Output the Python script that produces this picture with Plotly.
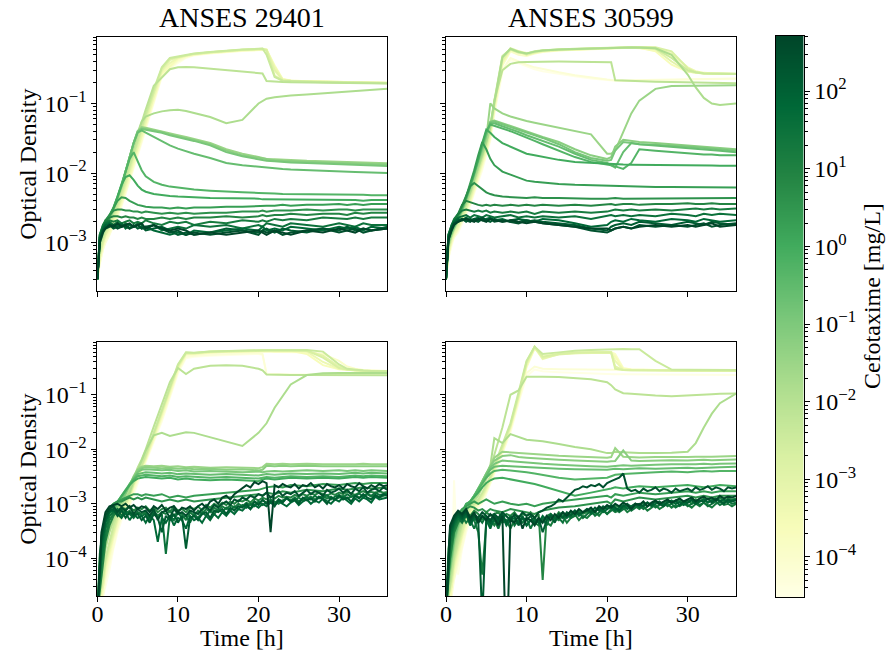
import numpy as np
import plotly.graph_objects as go

# ---------------- data ----------------
TIME_H = [0, 0.3, 0.7, 1, 1.5, 2, 2.5, 3, 3.5,
          4, 4.5, 5, 5.5, 6, 7, 8, 9, 10, 11, 12,
          14, 16, 18, 20, 20.5, 21, 22, 23, 24,
          26, 28, 30, 31, 32, 33, 34, 36]

# finer time sampling used for the noisy high-concentration wells (bottom row)
TIME_FINE_H = [0, 0.5, 1, 1.5, 2, 2.5, 3, 3.5, 4, 4.5, 5, 5.5,
               6, 6.5, 7, 7.5, 8, 8.5, 9, 9.5, 10, 10.5, 11, 11.5,
               12, 12.5, 13, 13.5, 14, 14.5, 15, 15.5, 16, 16.5, 17, 17.5,
               18, 18.5, 19, 19.5, 20, 20.5, 21, 21.5, 22, 22.5, 23, 23.5,
               24, 24.5, 25, 25.5, 26, 26.5, 27, 27.5, 28, 28.5, 29, 29.5,
               30, 30.5, 31, 31.5, 32, 32.5, 33, 33.5, 34, 34.5, 35, 35.5,
               36]

# Cefotaxime concentrations [mg/L], index k = 0 (highest) ... 24 (lowest)
CONC_MG_L = [512, 256, 128, 64, 32, 16, 8, 4, 2, 1, 0.5, 0.25, 0.125, 0.0625,
             0.03125, 0.015625, 0.0078125, 0.00390625, 0.001953125,
             0.0009765625, 0.00048828125, 0.000244140625, 0.0001220703125,
             6.103515625e-05, 3.0517578125e-05]

STRAINS = ["ANSES 29401", "ANSES 30599"]

# optical density in units of 1e-3 (mOD); one list per concentration, k = 0 first
OD_29401_TOP = [
    [0.3,1.0,1.4,1.6,1.8,1.7,1.9,1.7,1.8, 1.9,1.7,1.8,1.9,1.6,1.8,1.6,1.5,1.6,1.5,1.3, 1.4,1.3,1.4,1.5,1.4,1.3,1.5,1.4,1.3, 1.5,1.4,1.6,1.5,1.4,1.6,1.5,1.6],
    [0.3,1.1,1.5,1.6,1.7,1.8,1.6,1.7,1.8, 1.6,1.7,1.8,1.6,1.7,1.8,1.6,1.4,1.5,1.3,1.4, 1.3,1.4,1.5,1.3,1.5,1.4,1.5,1.3,1.4, 1.5,1.6,1.4,1.5,1.6,1.4,1.5,1.6],
    [0.3,1.1,1.5,1.7,1.8,1.6,1.7,1.8,1.7, 1.6,1.8,1.6,1.7,1.5,1.6,1.7,1.5,1.3,1.4,1.3, 1.4,1.6,1.5,1.4,1.5,1.6,1.4,1.6,1.5, 1.4,1.6,1.5,1.7,1.5,1.6,1.5,1.7],
    [0.3,1.2,1.6,1.8,1.9,1.7,1.8,1.9,1.6, 1.8,1.7,1.8,1.6,1.7,1.5,1.4,1.3,1.4,1.3,1.5, 1.4,1.5,1.6,1.5,1.7,1.5,1.6,1.5,1.7, 1.6,1.5,1.7,1.6,1.7,1.5,1.7,1.6],
    [0.3,1.2,1.7,1.9,2.0,1.8,2.0,1.7,1.9, 1.8,1.7,1.9,1.8,1.6,1.8,1.5,1.6,1.7,1.6,1.8, 1.7,1.8,1.6,1.8,1.7,1.9,1.8,1.7,1.9, 1.8,1.7,1.9,1.8,1.7,1.9,1.8,1.8],
    [0.3,1.3,1.8,2.0,2.1,2.0,2.1,1.9,2.0, 2.1,1.9,2.0,1.9,2.1,1.9,1.8,2.0,1.9,2.0,1.8, 2.0,1.9,2.1,2.0,2.1,2.0,2.2,2.1,2.2, 2.1,2.3,2.2,2.2,2.3,2.2,2.3,2.3],
    [0.3,1.3,1.8,2.1,2.3,2.4,2.4,2.3,2.4, 2.3,2.3,2.2,2.3,2.2,2.2,2.3,2.2,2.3,2.2,2.3, 2.3,2.4,2.3,2.4,2.5,2.4,2.5,2.5,2.6, 2.5,2.6,2.6,2.5,2.7,2.6,2.7,2.7],
    [0.3,1.3,1.7,2.1,2.5,2.9,3.0,3.0,2.9, 2.9,2.8,2.8,2.7,2.8,2.7,2.6,2.7,2.6,2.7,2.6, 2.7,2.7,2.8,2.8,2.9,2.8,2.9,2.9,2.9, 3.0,2.9,3.0,3.0,2.9,3.0,3.0,3.0],
    [0.3,1.2,1.6,2.0,2.5,3.2,4.0,4.5,4.4, 4.0,3.7,3.5,3.4,3.3,3.2,3.2,3.1,3.2,3.1,3.2, 3.2,3.3,3.3,3.4,3.4,3.4,3.4,3.5,3.4, 3.5,3.5,3.6,3.5,3.6,3.5,3.6,3.6],
    [0.3,1.2,1.6,1.9,2.4,3.2,4.6,6.8,8.8, 9.3,8.0,6.6,5.8,5.4,5.0,4.8,4.7,4.6,4.6,4.5, 4.4,4.4,4.3,4.3,4.2,4.2,4.2,4.1,4.2, 4.1,4.1,4.2,4.1,4.1,4.0,4.1,4.1],
    [0.3,1.1,1.5,1.9,2.4,3.2,4.6,7.0,11, 16,20,15,11,9.0,7.5,6.8,6.4,6.2,6.0,5.8, 5.6,5.4,5.3,5.2,5.2,5.1,5.1,5.0,5.0, 5.0,4.9,4.9,4.9,4.9,4.9,4.8,4.8],
    [0.3,1.1,1.5,1.8,2.3,3.1,4.4,6.7,10.7, 17,27,38,41,38,33,28,25,22.5,20.5,19, 16.5,14,13,12.3,12.2,12,11.8,11.5,11.3, 11,10.8,10.6,10.5,10.4,10.3,10.2,10],
    [0.3,1.0,1.5,1.8,2.3,3.1,4.4,6.6,10.6, 17,27,39,43,42,40,38,35,33,31,29, 25,20,17.5,16,15.5,15,14.8,14.5,14.2, 14,13.7,13.5,13.4,13.2,13,12.9,12.7],
    [0.3,1.0,1.4,1.7,2.2,3.0,4.3,6.5,10.5, 17,27,40,44,43,41,39,36,34,32,30, 26,21,18,16.5,16,15.6,15.3,15,14.8, 14.5,14.2,14,13.9,13.8,13.6,13.5,13.3],
    [0.3,1.0,1.4,1.7,2.2,3.0,4.3,6.5,10.5, 17,27,40,46,45,42,40,37,35,33,31, 27,22,19,17,16.5,16,15.8,15.5,15.3, 15,14.8,14.5,14.4,14.3,14.2,14,13.8],
    [0.3,1.0,1.4,1.7,2.2,2.9,4.2,6.3,10, 16,25,38,55,65,72,77,80,81,78,73, 64,52,58,100,108,117,123,127,130, 135,140,146,149,152,155,158,163],
    [0.3,0.9,1.3,1.6,2.1,2.8,4.0,6.0,9.5, 15,23,36,55,82,180,240,310,330,335,330, 315,300,290,275,270,210,205,203,201, 200,199,198,197,196,195,194,193],
    [0.3,0.8,1.2,1.5,1.9,2.6,3.6,5.5,8.5, 13,20,31,47,70,160,330,450,470,500,520, 550,575,595,610,615,500,240,212,208, 205,202,200,199,198,197,196,195],
    [0.3,0.7,1.1,1.4,1.8,2.4,3.3,5.0,7.8, 12,18,28,43,65,150,320,440,465,495,515, 545,570,590,605,610,580,250,214,210, 206,203,201,200,199,198,197,196],
    [0.3,0.7,1.0,1.3,1.7,2.3,3.1,4.6,7.2, 11,17,26,40,60,140,300,420,460,490,515, 545,570,590,600,605,590,300,218,210, 207,204,202,201,200,199,198,197],
    [0.3,0.6,1.0,1.3,1.6,2.1,2.9,4.3,6.6, 10,15,24,37,56,130,290,380,450,485,510, 540,565,585,600,600,595,330,220,212, 208,205,203,202,201,200,199,198],
    [0.3,0.6,0.9,1.2,1.5,2.0,2.7,4.0,6.0, 9,14,22,34,52,120,270,350,440,480,505, 535,560,580,595,600,590,350,225,213, 209,206,204,203,202,201,200,198],
    [0.3,0.6,0.9,1.1,1.4,1.9,2.5,3.7,5.5, 8.5,13,20,31,48,115,260,330,420,470,500, 530,555,575,590,595,585,320,222,212, 208,205,203,202,201,200,199,197],
    [0.3,0.5,0.8,1.0,1.3,1.8,2.4,3.5,5.2, 8,12,19,29,45,110,250,320,400,460,495, 525,550,570,585,590,580,300,220,211, 207,204,202,201,200,199,198,196],
    [0.3,0.5,0.8,1.0,1.3,1.7,2.3,3.3,5.0, 7.5,11,18,27,42,100,240,310,380,450,490, 520,545,565,580,585,575,280,218,210, 206,203,201,200,199,198,197,195],
]

OD_30599_TOP = [
    [0.3,1.1,1.5,1.8,2.0,2.1,2.2,2.1,2.0, 2.2,2.1,2.0,2.2,2.1,2.0,2.1,2.0,1.9,2.0,1.9, 1.8,1.7,1.6,1.6,1.5,1.6,1.7,1.6,1.7, 1.8,1.7,1.8,1.7,1.8,1.9,1.7,1.8],
    [0.3,1.1,1.6,1.9,2.0,2.2,2.1,2.0,2.2, 2.1,2.3,2.1,2.2,2.0,2.1,2.0,1.9,2.1,2.0,1.9, 1.8,1.7,1.5,1.4,1.5,1.6,1.7,1.6,1.8, 1.7,1.8,1.7,1.8,1.9,1.7,1.8,1.9],
    [0.3,1.2,1.6,1.9,2.1,2.2,2.0,2.2,2.1, 2.0,2.2,2.1,2.0,2.2,2.0,2.1,2.2,2.0,2.1,2.0, 1.9,1.8,1.6,1.5,1.7,1.8,1.9,1.8,2.0, 1.9,1.8,2.0,1.9,1.8,2.0,1.9,1.8],
    [0.3,1.2,1.7,2.0,2.2,2.1,2.3,2.1,2.2, 2.3,2.1,2.2,2.3,2.1,2.2,2.0,2.2,2.1,2.0,2.2, 2.1,1.9,1.7,1.8,2.0,2.1,2.0,2.2,2.1, 2.0,2.2,2.1,2.0,2.2,2.1,2.0,2.1],
    [0.3,1.3,1.8,2.1,2.3,2.4,2.5,2.3,2.5, 2.4,2.3,2.5,2.4,2.3,2.4,2.5,2.3,2.4,2.3,2.4, 2.3,2.4,2.2,2.4,2.5,2.4,2.5,2.4,2.5, 2.4,2.6,2.5,2.4,2.6,2.5,2.6,2.5],
    [0.3,1.3,1.8,2.2,2.6,2.9,3.0,2.9,2.8, 2.9,2.8,2.9,2.7,2.8,2.7,2.8,2.7,2.8,2.6,2.8, 2.7,2.8,2.7,2.8,2.9,3.0,2.9,3.0,2.9, 3.0,2.9,3.0,3.1,3.0,3.1,3.0,3.1],
    [0.3,1.3,1.7,2.1,2.6,3.5,4.0,3.8,3.6, 3.5,3.4,3.5,3.4,3.5,3.4,3.5,3.4,3.5,3.4,3.5, 3.4,3.5,3.4,3.5,3.6,3.5,3.6,3.6,3.5, 3.6,3.6,3.7,3.6,3.6,3.7,3.6,3.6],
    [0.3,1.2,1.6,2.0,2.5,3.4,4.8,6.5,7.2, 6.5,5.8,5.3,5.0,4.8,4.6,4.5,4.5,4.4,4.5,4.4, 4.4,4.3,4.3,4.3,4.4,4.4,4.3,4.3,4.4, 4.4,4.3,4.4,4.4,4.3,4.4,4.4,4.4],
    [0.3,1.2,1.6,1.9,2.4,3.3,4.6,7.0,11, 18,28,22,16,13,10.5,9.5,8.5,7.8,7.5,7.3, 7.0,6.8,6.7,6.6,6.5,6.5,6.4,6.4,6.4, 6.3,6.3,6.3,6.3,6.2,6.3,6.2,6.2],
    [0.3,1.1,1.5,1.9,2.4,3.2,4.5,6.6,10, 16,27,42,38,33,27,24,21,19,18,17, 15.5,14.5,14,13.5,13.5,13.4,13.3,13.2,13.2, 13.1,13,13,13,13,12.9,12.8,12.8],
    [0.3,1.1,1.5,1.8,2.3,3.1,4.4,6.5,10, 15.5,25,40,50,48,44,40,36,32,29,26, 21,17,14.5,13.5,13,12.5,11.5,14,22, 21,20,19.5,19,18.5,18.5,18,18],
    [0.3,1.1,1.5,1.8,2.3,3.1,4.3,6.4,9.8, 15,24,38,52,52,47,43,39,35,32,29, 24,19,15.5,14,13,12,20,27,26, 25,24,23,22.5,22,21.5,21,20],
    [0.3,1.0,1.4,1.7,2.2,3.0,4.2,6.3,9.6, 14.5,23,36,54,55,50,46,42,38,35,32, 26,20,16.5,15,15.5,21,28,27,26, 25.5,25,24,23.5,23,22.5,22,21],
    [0.3,1.0,1.4,1.7,2.2,3.0,4.2,6.2,9.5, 14,22,35,55,57,52,47,43,39,36,33, 28,22,18,16,17,24,30,29,28, 27,26,25,24.5,24,23.5,23,22],
    [0.3,1.0,1.4,1.7,2.2,2.9,4.0,5.8,8.8, 13,20,32,100,85,72,65,60,56,53,50, 45,40,36,19,19,21,38,72,110, 162,178,180,180,181,181,182,182],
    [0.3,0.9,1.3,1.6,2.1,2.8,3.7,5.3,8, 11.5,17.5,28,46,105,460,610,550,520,555,575, 595,605,615,625,628,630,632,635,630, 620,500,260,170,120,100,95,100],
    [0.3,0.9,1.3,1.6,2.1,2.8,3.8,5.5,8.2, 12,18,29,48,110,300,370,390,395,398,400, 400,398,396,395,390,215,212,210,208, 205,203,200,199,198,197,196,195],
    [0.3,0.9,1.3,1.6,2.0,2.6,3.5,5.0,7.5, 11,17,27,45,110,480,600,540,520,560,580, 600,610,620,630,632,635,640,645,648, 620,450,300,280,270,268,266,265],
    [0.3,0.8,1.2,1.5,1.9,2.5,3.3,4.7,7.0, 10.5,16,25,42,100,450,620,560,510,550,575, 595,605,615,625,628,630,635,640,645, 640,560,320,280,272,270,268,266],
    [0.3,0.8,1.2,1.5,1.8,2.4,3.1,4.4,6.6, 10,15,24,40,95,420,600,550,500,540,570, 590,600,610,620,622,625,630,635,640, 600,400,290,275,270,268,266,265],
    [0.3,0.7,1.1,1.4,1.7,2.3,3.0,4.2,6.3, 9.5,14,22,37,90,400,590,560,530,545,565, 585,600,610,620,625,628,632,636,640, 630,520,330,290,275,270,268,266],
    [0.3,0.7,1.1,1.3,1.6,2.2,2.9,4.0,6.0, 9,13,21,35,85,380,580,540,500,530,560, 580,595,605,615,620,625,630,632,630, 560,360,285,275,270,268,266,264],
    [0.3,0.7,1.0,1.3,1.6,2.1,2.8,3.8,5.7, 8.5,12.5,20,33,80,350,560,500,480,520,550, 575,590,600,610,615,620,625,630,620, 580,480,300,280,272,270,268,265],
    [0.3,0.6,1.0,1.2,1.5,2.0,2.6,3.6,5.4, 8,12,19,31,75,300,450,400,360,330,310, 280,255,235,220,218,216,215,215,216, 218,220,222,223,224,225,226,228],
    [0.3,0.6,0.9,1.2,1.4,1.9,2.5,3.4,5.1, 7.5,11,18,29,70,280,420,380,340,310,290, 265,245,228,215,213,212,211,212,213, 215,218,220,221,222,223,224,226],
]

# bottom row: k = 0..6 on TIME_FINE_H (noisy), k = 7..24 on TIME_H
OD_29401_BOTTOM_FINE = [
    [0.01,0.3,0.7,0.9,0.95,1.0,0.9,1.0,0.85,0.95,0.8,0.9, 0.85,0.7,0.9,0.8,0.95,0.75,0.85,0.9,0.7,0.85,0.8,0.9,
     0.75,0.9,1.0,0.85,1.1,1.2,1.0,1.3,1.4,1.2,1.5,1.7, 1.9,2.2,2.0,2.5,2.3,2.6,2.4,0.3,2.2,2.0,2.3,2.1,
     2.0,2.3,1.9,2.2,2.1,2.4,2.0,2.2,1.9,2.3,2.1,2.0, 2.2,1.9,2.3,2.1,2.0,2.4,2.1,1.9,2.2,2.0,2.3,2.1, 2.2],
    [0.01,0.25,0.6,0.8,0.9,0.7,0.85,0.75,0.9,0.65,0.8,0.7, 0.75,0.6,0.8,0.5,0.7,0.75,0.55,0.8,0.65,0.7,0.6,0.75,
     0.7,0.65,0.8,0.9,0.75,0.95,0.85,1.0,1.1,0.95,1.2,1.1, 1.3,1.2,1.4,1.3,1.5,1.4,1.6,1.3,1.5,1.7,1.4,1.6,
     1.5,1.7,1.4,1.6,1.8,1.5,1.7,1.6,1.4,1.8,1.6,1.7, 1.9,1.6,1.8,1.5,1.9,1.7,2.0,1.6,1.8,1.9,1.7,2.0, 1.8],
    [0.01,0.2,0.5,0.75,0.8,0.6,0.75,0.55,0.7,0.6,0.65,0.5, 0.6,0.45,0.65,0.55,0.3,0.6,0.5,0.65,0.45,0.6,0.15,0.55,
     0.6,0.5,0.65,0.7,0.55,0.75,0.7,0.8,0.65,0.85,0.75,0.9, 0.85,1.0,0.8,1.1,0.95,1.2,1.0,1.1,0.9,1.2,1.05,1.3,
     1.1,1.2,1.0,1.3,1.15,1.25,1.1,1.35,1.2,1.0,1.3,1.2, 1.4,1.2,1.3,1.1,1.4,1.25,1.5,1.3,1.2,1.45,1.3,1.5, 1.4],
    [0.01,0.15,0.45,0.7,0.75,0.65,0.55,0.7,0.5,0.65,0.55,0.6, 0.45,0.6,0.5,0.2,0.55,0.45,0.6,0.4,0.55,0.5,0.35,0.6,
     0.5,0.55,0.45,0.6,0.5,0.65,0.55,0.7,0.6,0.75,0.65,0.8, 0.75,0.9,0.8,0.95,0.85,1.0,0.9,1.05,0.95,1.1,1.0,0.9,
     1.05,1.15,0.95,1.1,1.2,1.0,1.15,1.05,1.25,1.1,1.0,1.2, 1.1,1.3,1.15,1.0,1.25,1.1,1.3,1.2,1.05,1.35,1.2,1.25, 1.3],
    [0.01,0.1,0.35,0.6,0.7,0.8,0.6,0.75,0.65,0.55,0.7,0.6, 0.65,0.5,0.7,0.55,0.65,0.12,0.6,0.5,0.7,0.55,0.6,0.45,
     0.65,0.55,0.7,0.6,0.75,0.65,0.8,0.7,0.85,0.75,0.9,0.8, 0.95,0.85,1.0,0.9,1.1,0.95,1.05,1.15,1.0,1.2,1.1,1.25,
     1.15,1.3,1.1,1.25,1.35,1.2,1.4,1.25,1.3,1.45,1.2,1.35, 1.45,1.3,1.5,1.35,1.4,1.55,1.35,1.5,1.4,1.6,1.45,1.5, 1.55],
    [0.01,0.08,0.25,0.5,0.65,0.7,0.8,0.65,0.75,0.6,0.7,0.65, 0.7,0.55,0.75,0.6,0.7,0.65,0.75,0.6,0.7,0.65,0.5,0.7,
     0.6,0.75,0.65,0.8,0.7,0.85,0.75,0.9,0.8,0.95,0.85,1.0, 0.9,1.05,0.95,1.1,1.0,1.15,1.05,1.2,1.1,1.0,1.15,1.25,
     1.1,1.2,1.3,1.15,1.25,1.35,1.2,1.3,1.4,1.25,1.35,1.2, 1.3,1.4,1.25,1.35,1.45,1.3,1.4,1.5,1.35,1.45,1.3,1.4, 1.45],
    [0.01,0.05,0.2,0.4,0.6,0.75,0.85,0.8,0.9,0.75,0.85,0.8, 0.9,0.75,0.85,0.7,0.8,0.85,0.7,0.9,0.75,0.8,0.7,0.85,
     0.8,0.9,0.75,0.95,0.85,1.0,0.9,1.05,0.95,1.1,1.0,1.15, 1.1,1.2,1.05,1.25,1.15,1.3,1.2,1.35,1.25,1.4,1.3,1.35,
     1.3,1.45,1.35,1.5,1.4,1.55,1.45,1.6,1.5,1.4,1.55,1.45, 1.6,1.5,1.65,1.55,1.45,1.6,1.7,1.55,1.65,1.6,1.7,1.6, 1.65],
]

OD_29401_BOTTOM = [  # k = 7 .. 24
    [0.01,0.12,0.35,0.6,0.85,1.0,1.1,1.1,1.2, 1.3,1.2,1.3,1.2,1.3,1.2,1.1,1.2,1.1,1.2,1.1, 1.2,1.3,1.4,1.5,1.4,1.6,1.5,1.7,1.6, 1.8,1.7,1.9,1.8,1.9,2.0,1.9,2.0],
    [0.01,0.1,0.3,0.55,0.8,1.0,1.1,1.2,1.3, 1.4,1.5,1.5,1.4,1.5,1.4,1.5,1.3,1.4,1.3,1.4, 1.5,1.6,1.7,1.8,1.9,2.0,2.1,2.0,2.2, 2.1,2.3,2.2,2.3,2.4,2.3,2.4,2.4],
    [0.01,0.08,0.25,0.5,0.7,0.9,1.1,1.4,1.8, 2.2,2.6,2.9,3.0,3.1,3.0,2.9,3.0,2.8,2.9,2.8, 2.7,2.8,2.7,2.6,2.8,2.9,2.8,2.9,3.0, 2.9,3.0,2.9,3.0,3.1,3.0,3.1,3.0],
    [0.01,0.07,0.22,0.45,0.65,0.85,1.1,1.4,1.8, 2.3,2.8,3.2,3.3,3.4,3.3,3.2,3.3,3.1,3.2,3.1, 3.0,3.1,3.0,2.9,3.0,3.1,3.0,3.1,3.2, 3.1,3.2,3.1,3.2,3.3,3.2,3.3,3.2],
    [0.01,0.06,0.2,0.4,0.6,0.8,1.0,1.3,1.7, 2.3,2.9,3.5,3.7,3.8,3.7,3.6,3.7,3.5,3.6,3.5, 3.4,3.5,3.4,3.3,3.4,3.5,3.4,3.5,3.6, 3.5,3.6,3.5,3.6,3.7,3.6,3.7,3.6],
    [0.01,0.06,0.18,0.35,0.55,0.75,0.95,1.2,1.6, 2.3,3.0,3.8,4.2,4.3,4.2,4.1,4.2,4.0,4.1,3.9, 4.0,3.9,3.8,3.9,3.8,3.9,4.0,3.9,4.0, 4.1,4.0,4.1,4.0,4.1,4.0,4.1,4.0],
    [0.01,0.05,0.15,0.3,0.5,0.7,0.9,1.1,1.5, 2.2,3.1,4.1,4.5,4.7,4.6,4.5,4.6,4.4,4.5,4.3, 4.4,4.2,4.3,4.1,4.2,5.0,4.9,5.0,4.9, 5.0,4.9,4.9,5.0,4.9,4.9,5.0,4.9],
    [0.01,0.05,0.15,0.3,0.5,0.7,0.9,1.1,1.5, 2.2,3.2,4.3,4.8,5.0,4.9,5.0,4.8,4.9,4.7,4.8, 4.6,4.7,4.6,4.5,4.7,5.4,5.3,5.4,5.3, 5.4,5.3,5.4,5.3,5.3,5.4,5.3,5.3],
    [0.01,0.03,0.08,0.16,0.32,0.55,0.85,1.0,1.3, 1.6,2.7,4.2,6.0,9.5,18,20,17.5,19,20.5,20, 16.5,13.5,11.5,20,24,30,58,95,155, 230,248,250,250,250,250,250,250],
    [0.01,0.03,0.07,0.15,0.3,0.5,0.8,1.0,1.2, 1.8,3.0,4.6,6.5,10,26,66,170,310,240,300, 340,350,340,300,280,235,232,232,231, 231,230,230,230,230,229,229,229],
    [0.01,0.02,0.05,0.1,0.2,0.4,0.7,0.9,1.1, 1.5,2.5,3.8,5.2,8,20,52,140,360,600,590, 625,640,650,655,657,658,660,662,664, 665,620,360,300,285,278,274,270],
    [0.01,0.02,0.04,0.09,0.18,0.35,0.6,0.85,1.0, 1.4,2.4,3.6,5.0,7.6,19,50,132,345,590,585, 620,635,645,650,652,655,658,660,662, 650,480,310,292,282,276,272,268],
    [0.01,0.02,0.04,0.08,0.16,0.3,0.55,0.8,1.0, 1.35,2.3,3.4,4.8,7.2,18,47,125,330,580,580, 615,630,640,645,648,650,652,655,655, 640,520,330,295,283,277,273,270],
    [0.01,0.02,0.03,0.07,0.14,0.28,0.5,0.75,0.95, 1.3,2.2,3.2,4.6,6.9,17,44,118,315,570,575, 610,625,635,640,642,645,648,650,650, 620,400,300,288,280,275,271,268],
    [0.01,0.01,0.03,0.06,0.12,0.25,0.45,0.7,0.9, 1.2,2.1,3.0,4.4,6.6,16,41,110,300,555,565, 600,615,625,630,632,635,640,642,640, 560,350,295,285,278,274,270,266],
    [0.01,0.01,0.03,0.05,0.1,0.22,0.4,0.65,0.85, 1.1,1.9,2.8,4.2,6.3,15,38,102,285,540,550, 590,605,615,620,622,620,610,608,605, 600,560,420,330,300,285,278,272],
    [0.01,0.01,0.02,0.04,0.08,0.18,0.35,0.6,0.8, 1.0,1.7,2.6,4.0,6.0,14,35,95,265,500,520, 540,560,570,580,560,240,236,235,234, 234,233,233,233,232,232,232,232],
    [0.01,0.01,0.02,0.03,0.06,0.15,0.3,0.5,0.7, 0.9,1.5,2.4,3.8,5.7,13,32,88,245,470,500, 520,540,550,560,540,240,237,236,235, 234,234,233,233,233,232,232,231],
]

OD_30599_BOTTOM_FINE = [
    [0.01,0.4,0.6,0.75,0.65,0.8,0.55,0.7,0.45,0.6,0.5,0.65, 0.55,0.4,0.6,0.001,0.5,0.45,0.6,0.35,0.55,0.5,0.4,0.55,
     0.45,0.6,0.5,0.65,0.55,0.7,0.6,0.75,0.65,0.8,0.7,0.75, 0.85,0.7,0.9,0.8,0.95,0.85,1.0,0.9,1.05,0.95,0.8,1.0,
     0.95,1.1,0.9,1.05,1.15,1.0,1.1,1.2,1.05,1.15,1.25,1.1, 1.2,1.3,1.1,1.25,1.35,1.2,1.3,1.15,1.4,1.25,1.35,1.3, 1.4],
    [0.01,0.35,0.55,0.7,0.6,0.75,0.5,0.65,0.55,0.7,0.6,0.5, 0.65,0.55,0.7,0.6,0.5,0.65,0.55,0.7,0.6,0.65,0.55,0.7,
     0.75,0.85,0.9,1.0,1.2,1.1,1.3,1.5,1.8,1.9,2.1,2.0, 2.2,2.1,2.3,2.0,2.4,2.6,2.8,3.0,3.6,1.9,1.7,1.8,
     1.6,1.9,1.7,1.8,2.0,1.7,1.9,1.8,1.6,1.9,1.7,1.8, 1.9,1.7,2.0,1.8,1.9,2.1,1.8,2.0,1.9,1.7,2.0,1.9, 2.0],
    [0.01,0.3,0.5,0.65,0.55,0.7,0.45,0.6,0.5,0.008,0.55,0.45, 0.6,0.5,0.65,0.45,0.55,0.6,0.4,0.55,0.5,0.6,0.45,0.55,
     0.3,0.5,0.6,0.45,0.65,0.55,0.7,0.6,0.75,0.65,0.7,0.8, 0.7,0.85,0.75,0.9,0.8,0.95,0.85,0.75,0.9,1.0,0.85,0.95,
     1.0,0.9,1.05,0.95,1.1,1.0,0.9,1.1,1.05,1.15,0.95,1.1, 1.05,1.2,1.0,1.15,1.1,1.25,1.05,1.2,1.15,1.0,1.2,1.1, 1.15],
    [0.01,0.25,0.45,0.6,0.5,0.65,0.4,0.55,0.45,0.6,0.5,0.35, 0.55,0.45,0.6,0.4,0.5,0.55,0.45,0.6,0.4,0.5,0.55,0.45,
     0.6,0.5,0.65,0.55,0.6,0.7,0.55,0.65,0.75,0.6,0.7,0.8, 0.65,0.75,0.85,0.7,0.8,0.9,0.75,0.85,0.95,0.8,0.9,1.0,
     0.85,0.95,1.05,0.9,1.0,1.1,0.95,1.05,1.15,1.0,1.1,0.95, 1.05,1.15,1.0,1.1,1.2,1.05,1.15,1.25,1.1,1.2,1.05,1.15, 1.2],
    [0.01,0.2,0.4,0.55,0.45,0.6,0.5,0.35,0.55,0.45,0.6,0.4, 0.5,0.35,0.55,0.45,0.6,0.4,0.5,0.45,0.55,0.35,0.5,0.45,
     0.55,0.4,0.6,0.5,0.55,0.45,0.65,0.55,0.6,0.7,0.55,0.65, 0.75,0.6,0.7,0.8,0.65,0.75,0.85,0.7,0.8,0.9,0.75,0.85,
     0.95,0.8,0.9,1.0,0.85,0.95,1.05,0.9,1.0,0.85,0.95,1.05, 0.9,1.0,1.1,0.95,1.05,0.9,1.0,1.1,0.95,1.05,1.15,1.0, 1.05],
    [0.01,0.15,0.35,0.5,0.6,0.45,0.55,0.5,0.3,0.05,0.45,0.5, 0.4,0.55,0.45,0.5,0.35,0.5,0.45,0.55,0.4,0.5,0.45,0.4,
     0.5,0.45,0.4,0.55,0.5,0.6,0.45,0.55,0.65,0.5,0.6,0.55, 0.65,0.7,0.6,0.75,0.65,0.8,0.7,0.75,0.85,0.7,0.8,0.9,
     0.8,0.9,0.75,0.85,0.95,0.8,0.9,1.0,0.85,0.95,0.9,1.0, 0.95,0.85,1.0,0.9,1.05,0.95,0.85,1.0,1.1,0.95,1.0,0.9, 1.0],
    [0.01,0.1,0.3,0.45,0.55,0.7,0.6,0.75,0.65,0.5,0.7,0.6, 0.65,0.7,0.55,0.65,0.6,0.7,0.55,0.65,0.6,0.7,0.55,0.65,
     0.04,0.6,0.65,0.55,0.7,0.6,0.65,0.7,0.6,0.75,0.65,0.7, 0.8,0.7,0.85,0.75,0.9,0.8,0.95,0.85,0.8,0.95,0.9,1.0,
     0.95,1.05,0.9,1.0,1.1,0.95,1.05,1.15,1.0,1.1,1.2,1.05, 1.15,1.0,1.2,1.1,1.25,1.05,1.2,1.15,1.3,1.1,1.25,1.2, 1.25],
]

OD_30599_BOTTOM = [  # k = 7 .. 24
    [0.01,0.15,0.35,0.5,0.6,0.7,0.8,0.9,0.85, 0.75,0.8,0.7,0.8,0.75,0.7,0.8,0.75,0.7,0.65,0.75, 0.85,0.9,1.0,1.1,1.0,1.2,1.1,1.2,1.3, 1.2,1.3,1.4,1.3,1.4,1.3,1.4,1.4],
    [0.01,0.1,0.3,0.5,0.65,0.8,0.9,1.0,1.1, 1.0,1.1,1.2,1.1,1.0,1.1,1.0,0.95,1.0,0.9,1.0, 1.1,1.2,1.3,1.4,1.3,1.5,1.4,1.5,1.6, 1.5,1.6,1.7,1.6,1.7,1.6,1.7,1.7],
    [0.01,0.06,0.16,0.3,0.5,0.7,1.0,1.1,1.3, 1.6,2.0,2.4,2.7,2.9,3.0,2.8,2.6,2.5,2.3,2.1, 1.7,1.4,1.6,1.8,1.9,2.0,1.9,2.0,2.1, 2.0,2.1,2.2,2.1,2.0,2.1,2.2,2.1],
    [0.01,0.05,0.14,0.28,0.45,0.68,0.98,1.1,1.4, 1.8,2.3,3.0,3.6,4.0,4.2,4.1,4.0,3.8,3.6,3.4, 3.0,2.8,2.9,3.0,3.2,3.4,3.5,3.6,3.7, 3.8,3.9,3.8,3.9,4.0,3.9,4.0,4.0],
    [0.01,0.05,0.12,0.24,0.42,0.65,0.95,1.1,1.4, 1.9,2.5,3.3,4.2,4.8,5.0,4.9,4.8,4.7,4.6,4.5, 4.4,4.3,4.2,4.2,4.3,4.4,4.3,4.4,4.5, 4.4,4.5,4.6,4.5,4.6,4.7,4.7,4.8],
    [0.01,0.04,0.11,0.22,0.4,0.62,0.92,1.1,1.4, 1.9,2.6,3.6,4.6,5.4,6.2,6.0,5.8,5.7,5.5,5.4, 5.2,5.0,4.9,4.8,4.9,5.0,5.1,5.0,5.1, 5.2,5.3,5.2,5.3,5.4,5.3,5.4,5.5],
    [0.01,0.04,0.1,0.2,0.38,0.6,0.9,1.1,1.4, 1.8,2.6,3.7,5.0,6.2,7.5,7.8,7.2,7.0,6.8,6.6, 6.4,6.2,6.0,5.9,6.0,6.1,9.5,6.2,6.1, 6.2,6.3,6.2,6.3,6.4,6.3,6.4,6.5],
    [0.01,0.03,0.09,0.18,0.35,0.55,0.85,1.0,1.3, 1.7,2.5,3.6,5.2,7.0,9.0,8.8,8.5,8.3,8.0,7.8, 7.6,7.4,7.2,7.0,7.2,10.5,7.3,7.2,7.1, 7.2,7.1,7.2,7.3,7.2,7.3,7.4,7.5],
    [0.01,0.03,0.08,0.15,0.3,0.5,0.8,1.0,1.2, 1.5,2.2,3.2,5.0,16,13,19,17,15,14.5,14, 12.5,11,10,8.5,8.5,9,8.8,8.6,8.5, 8.5,8.6,9,13,25,45,70,105],
    [0.01,0.02,0.06,0.12,0.25,0.45,0.75,0.95,1.1, 1.4,2.0,2.8,4.5,8,25,100,120,215,218,215, 212,205,192,170,150,125,107,104,101, 97,94,96,98,100,102,104,106],
    [0.01,0.02,0.05,0.1,0.2,0.4,0.7,0.9,1.0, 1.2,1.6,2.2,3.2,5,12,30,110,420,760,560, 600,640,660,680,690,690,690,688,686, 420,290,288,287,286,285,285,284],
    [0.01,0.02,0.04,0.09,0.18,0.35,0.6,0.85,1.0, 1.1,1.5,2.1,3.0,4.7,11,28,100,400,770,500, 560,590,600,595,600,300,285,283,282, 281,280,279,278,278,277,277,276],
    [0.01,0.02,0.04,0.08,0.16,0.3,0.55,0.8,0.95, 1.1,1.4,2.0,2.9,4.5,10.5,27,95,380,760,470, 550,580,590,590,592,330,285,282,281, 280,279,278,278,277,277,276,275],
    [0.01,0.02,0.03,0.07,0.14,0.28,0.5,0.75,0.9, 1.0,1.3,1.9,2.8,4.3,10,26,90,360,740,450, 560,585,595,600,590,420,290,285,283, 282,281,280,279,279,278,278,277],
    [0.01,0.01,0.03,0.06,0.12,0.25,0.45,0.7,0.85, 1.0,1.3,1.8,2.7,4.1,9.5,25,85,340,720,480, 565,590,600,605,600,500,300,290,286, 284,282,281,280,280,279,279,278],
    [0.01,0.01,0.03,0.05,0.1,0.22,0.4,0.65,0.8, 0.95,1.2,1.7,2.6,3.9,9,24,80,320,700,520, 580,600,610,615,610,560,310,292,288, 285,283,282,281,281,280,280,279],
    [0.01,0.01,0.02,0.04,0.08,0.18,0.35,0.6,0.75, 0.9,1.1,1.6,2.4,3.7,8.5,22,75,250,330,300, 295,292,290,288,287,286,285,284,283, 282,281,280,279,279,278,278,277],
    [0.01,0.01,0.02,2.7,0.05,0.15,0.3,0.5,0.7, 0.85,1.0,1.5,2.3,3.5,8,20,70,220,290,270, 260,252,246,242,240,239,238,237,236, 235,234,234,233,233,232,232,231],
]

PANELS = [  # (fine-sampled wells k=0.., coarse wells, axis suffix)
    ([], OD_29401_TOP, ""),
    ([], OD_30599_TOP, "2"),
    (OD_29401_BOTTOM_FINE, OD_29401_BOTTOM, "3"),
    (OD_30599_BOTTOM_FINE, OD_30599_BOTTOM, "4"),
]

# ---------------- colours (matplotlib YlGn, log-normalised) ----------------
YLGN = [(255, 255, 229), (247, 252, 185), (217, 240, 163), (173, 221, 142),
        (120, 198, 121), (65, 171, 93), (35, 132, 67), (0, 104, 55), (0, 69, 41)]
YLGN_SCALE = [[i / (len(YLGN) - 1), "rgb(%d,%d,%d)" % c] for i, c in enumerate(YLGN)]

CMIN = float(np.log10(min(CONC_MG_L)))
CMAX = float(np.log10(max(CONC_MG_L)))


def ylgn(frac):
    frac = min(max(frac, 0.0), 1.0)
    pos = frac * (len(YLGN) - 1)
    i = min(int(pos), len(YLGN) - 2)
    f = pos - i
    a, b = YLGN[i], YLGN[i + 1]
    return "rgb(%d,%d,%d)" % tuple(round(a[j] + (b[j] - a[j]) * f) for j in range(3))


def conc_color(c):
    return ylgn((np.log10(c) - CMIN) / (CMAX - CMIN))


FONT = "Liberation Serif"
FS = 24

fig = go.Figure()

for fine, coarse, sfx in PANELS:
    series = [(TIME_FINE_H, v) for v in fine] + [(TIME_H, v) for v in coarse]
    if len(series) != len(CONC_MG_L):
        raise ValueError("panel %s has %d wells" % (sfx, len(series)))
    for k in range(len(CONC_MG_L) - 1, -1, -1):
        tt, vals = series[k]
        if len(vals) != len(tt):
            raise ValueError("length mismatch %s k=%d: %d" % (sfx, k, len(vals)))
        fig.add_trace(go.Scatter(
            x=tt, y=np.array(vals) / 1000.0, mode="lines",
            line=dict(color=conc_color(CONC_MG_L[k]), width=2.0),
            xaxis="x" + sfx, yaxis="y" + sfx, showlegend=False, hoverinfo="skip"))

# colour bar drawn as a heatmap on its own axis (allows minor ticks)
grad = np.linspace(CMIN, CMAX, 400)
fig.add_trace(go.Heatmap(
    x=[0], y=grad, z=[[g] for g in grad], colorscale=YLGN_SCALE,
    zmin=CMIN, zmax=CMAX, showscale=False, xaxis="x5", yaxis="y5", hoverinfo="skip"))


def sup(e):
    return "10<sup>%s%d</sup>" % ("\u2212" if e < 0 else "", abs(e))


Y_MAJOR_EXP = [-5, -4, -3, -2, -1, 0]
y_major = [10.0 ** e for e in Y_MAJOR_EXP]
y_major_txt = [sup(e) for e in Y_MAJOR_EXP]
y_minor = [m * 10.0 ** e for e in range(-6, 1) for m in range(2, 10)]

W, H = 886, 659
def px_x(p): return p / W
def px_y(p): return 1 - p / H

col_dom = [[px_x(92), px_x(384)], [px_x(443), px_x(735)]]
row_dom = [[px_y(291), px_y(37)], [px_y(596), px_y(342)]]
y_ranges = [[np.log10(2.03e-4), np.log10(0.9)], [np.log10(2.03e-5), np.log10(0.93)]]

axis_common = dict(showline=True, linecolor="black", linewidth=1, mirror=True,
                   ticks="outside", ticklen=5, tickwidth=1, tickcolor="black",
                   showgrid=False, zeroline=False,
                   tickfont=dict(family=FONT, size=FS, color="black"))

layout = dict(width=W, height=H, margin=dict(l=0, r=0, t=0, b=0), autosize=False,
              paper_bgcolor="white", plot_bgcolor="white", showlegend=False,
              font=dict(family=FONT, size=FS, color="black"))

for idx, (fine, coarse, sfx) in enumerate(PANELS):
    r, c = divmod(idx, 2)
    xa = dict(axis_common, domain=col_dom[c], anchor="y" + sfx, range=[0, 36],
              tickvals=[0, 10, 20, 30], showticklabels=(r == 1), ticklabelstandoff=-9)
    ya = dict(axis_common, domain=row_dom[r], anchor="x" + sfx, type="log",
              range=y_ranges[r], tickvals=y_major, ticktext=y_major_txt,
              showticklabels=(c == 0),
              minor=dict(tickvals=y_minor, ticks="outside", ticklen=3,
                         tickwidth=0.8, tickcolor="black", showgrid=False))
    layout["xaxis" + sfx] = xa
    layout["yaxis" + sfx] = ya

cb_exp = list(range(-4, 3))
cb_minor = [np.log10(m * 10.0 ** e) for e in range(-5, 3) for m in range(2, 10)
            if CMIN <= np.log10(m * 10.0 ** e) <= CMAX]
layout["xaxis5"] = dict(domain=[px_x(775), px_x(803)], anchor="y5", range=[-0.5, 0.5],
                        showline=True, linecolor="black", linewidth=1, mirror=True,
                        showticklabels=False, ticks="", showgrid=False, zeroline=False)
layout["yaxis5"] = dict(axis_common, domain=[px_y(597), px_y(36)], anchor="x5",
                        side="right", range=[CMIN, CMAX],
                        tickvals=cb_exp, ticktext=[sup(e) for e in cb_exp],
                        minor=dict(tickvals=cb_minor, ticks="outside", ticklen=3,
                                   tickwidth=0.8, tickcolor="black", showgrid=False))

ann = []
for c, name in enumerate(STRAINS):
    cx = (col_dom[c][0] + col_dom[c][1]) / 2
    ann.append(dict(text=name, x=cx, y=px_y(18), xref="paper", yref="paper",
                    showarrow=False, xanchor="center", yanchor="middle",
                    font=dict(family=FONT, size=28, color="black")))
    ann.append(dict(text="Time [h]", x=cx, y=px_y(638), xref="paper", yref="paper",
                    showarrow=False, xanchor="center", yanchor="middle",
                    font=dict(family=FONT, size=FS, color="black")))
for r in range(2):
    cy = (row_dom[r][0] + row_dom[r][1]) / 2
    ann.append(dict(text="Optical Density", x=px_x(22), y=cy, xref="paper", yref="paper",
                    showarrow=False, textangle=-90, xanchor="center", yanchor="middle",
                    font=dict(family=FONT, size=FS, color="black")))
ann.append(dict(text="Cefotaxime [mg/L]", x=px_x(872), y=px_y(296), xref="paper", yref="paper",
                showarrow=False, textangle=-90, xanchor="center", yanchor="middle",
                font=dict(family=FONT, size=FS, color="black")))
layout["annotations"] = ann

fig.update_layout(**layout)
fig.write_html("out.html", config={"displayModeBar": False},
               post_script="document.body.style.margin='0';")
